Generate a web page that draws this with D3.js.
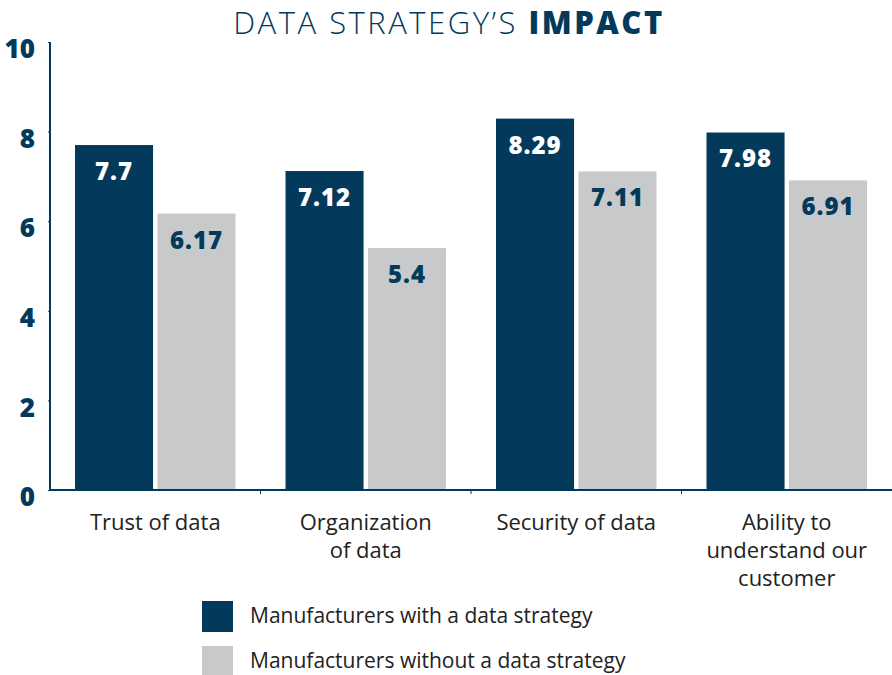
<!DOCTYPE html>
<html lang="en">
  <head>
    <meta charset="UTF-8" />
    <title>data-strategy-impact</title>
    <style>
      body { margin: 0; background: #fff; }
      text { font-family: "Open Sans", sans-serif; }
    </style>
  </head>
  <body>
    <svg width="892" height="675" id="svg"></svg>
    <script src="https://cdn.jsdelivr.net/npm/d3@7/dist/d3.min.js"></script>
    <script>
      // data
      const categories = [
        ["Trust of data"],
        ["Organization", "of data"],
        ["Security of data"],
        ["Ability to", "understand our", "customer"],
      ];
      const withStrategy = [7.7, 7.12, 8.29, 7.98];
      const withoutStrategy = [6.17, 5.4, 7.11, 6.91];
      const seriesNames = [
        "Manufacturers with a data strategy",
        "Manufacturers without a data strategy",
      ];
      const yTicks = [0, 2, 4, 6, 8, 10];

      const dark = "#033a5c";
      const grey = "#c8c9cb";

      const svg = d3.select("#svg");
      const margin = { top: 42, left: 50, right: 0, bottom: 185 };
      const width = +svg.attr("width");
      const height = +svg.attr("height");
      const innerW = width - margin.left - margin.right;
      const innerH = height - margin.top - margin.bottom;

      const g = svg.append("g").attr("transform", `translate(${margin.left},${margin.top})`);

      const x = d3.scaleBand().domain(d3.range(categories.length)).range([0, innerW]);
      const inner = d3.scaleBand().domain([0, 1]).range([25, x.bandwidth() - 25]).paddingInner(0.053);
      const y = d3.scaleLinear().domain([0, 10]).range([innerH, 0]);

      // title
      const title = svg.append("text")
        .attr("x", 449).attr("y", 34)
        .attr("text-anchor", "middle")
        .attr("fill", dark)
        .style("font-size", "31px")
        .style("letter-spacing", "2.5px");
      title.append("tspan").text("DATA STRATEGY\u2019S ").attr("font-weight", 300);
      title.append("tspan").text("IMPACT").attr("font-weight", 800);

      // bars
      const series = [withStrategy, withoutStrategy];
      series.forEach((vals, s) => {
        const grp = g.append("g");
        grp.selectAll("rect")
          .data(vals)
          .join("rect")
          .attr("x", (d, i) => x(i) + inner(s))
          .attr("width", inner.bandwidth())
          .attr("y", d => y(d))
          .attr("height", d => innerH - y(d))
          .attr("fill", s === 0 ? dark : grey);
        grp.selectAll("text")
          .data(vals)
          .join("text")
          .attr("x", (d, i) => x(i) + inner(s) + inner.bandwidth() / 2)
          .attr("y", d => y(d) + 35)
          .attr("text-anchor", "middle")
          .attr("fill", s === 0 ? "#fff" : dark)
          .attr("font-weight", 800)
          .style("font-size", "24px")
          .style("letter-spacing", "1px")
          .text(d => d);
      });

      // y axis
      const yAxis = g.append("g").call(d3.axisLeft(y).tickValues(yTicks).tickSize(2).tickPadding(13));
      yAxis.select(".domain").attr("stroke", dark).attr("stroke-width", 2).attr("d", `M0,${innerH}V0`);
      yAxis.selectAll(".tick line").attr("stroke", dark);
      yAxis.selectAll(".tick text")
        .attr("dy", "0.6em")
        .attr("fill", dark)
        .attr("font-weight", 800)
        .style("font-size", "26px");

      // x axis baseline with small ticks between groups
      const xAxis = g.append("g").attr("transform", `translate(0,${innerH})`);
      xAxis.append("line")
        .attr("x1", 0).attr("x2", innerW)
        .attr("stroke", dark).attr("stroke-width", 2);
      xAxis.selectAll(".sep")
        .data(d3.range(1, categories.length))
        .join("line")
        .attr("x1", d => x(d)).attr("x2", d => x(d))
        .attr("y1", 0).attr("y2", 4)
        .attr("stroke", dark);

      xAxis.selectAll(".cat")
        .data(categories)
        .join("text")
        .attr("text-anchor", "middle")
        .attr("fill", "#222")
        .style("font-size", "22px")
        .each(function (lines, i) {
          d3.select(this).selectAll("tspan")
            .data(lines)
            .join("tspan")
            .attr("x", x(i) + x.bandwidth() / 2)
            .attr("y", (d, k) => 40 + k * 28)
            .text(d => d);
        });

      // legend
      const legend = svg.append("g").attr("transform", "translate(202,601)");
      seriesNames.forEach((name, s) => {
        const row = legend.append("g").attr("transform", `translate(0,${s * 45})`);
        row.append("rect").attr("width", 31).attr("height", 31).attr("fill", s === 0 ? dark : grey);
        row.append("text")
          .attr("x", 48).attr("y", 22)
          .attr("fill", "#222")
          .style("font-size", "21px")
          .text(name);
      });
    </script>
  </body>
</html>
